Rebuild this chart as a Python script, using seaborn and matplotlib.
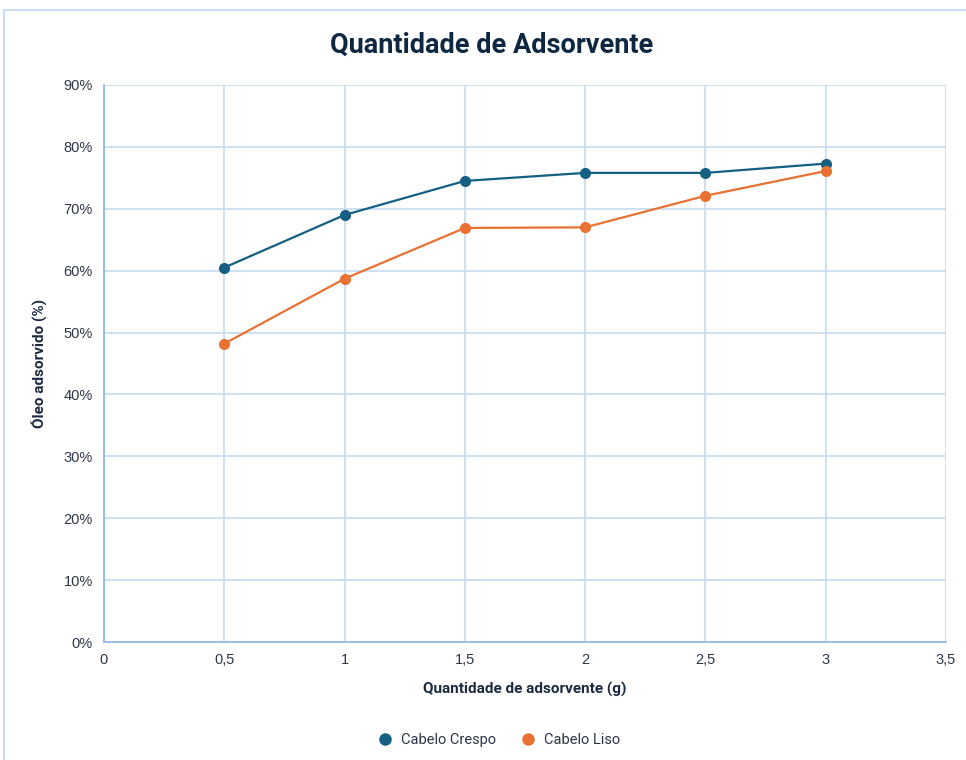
import matplotlib
matplotlib.use("Agg")
import matplotlib.pyplot as plt
import seaborn as sns
import pandas as pd
from matplotlib.patches import Rectangle
from matplotlib.ticker import FuncFormatter, MultipleLocator

quantidade = [0.5, 1, 1.5, 2, 2.5, 3]
crespo = [60.5, 69.0, 74.5, 75.8, 75.8, 77.3]
liso = [48.2, 58.7, 66.9, 67.0, 72.1, 76.1]
series_names = ["Cabelo Crespo", "Cabelo Liso"]
colors = ["#156082", "#E97132"]

df = pd.DataFrame({
    "x": quantidade * 2,
    "y": crespo + liso,
    "serie": [series_names[0]] * len(quantidade) + [series_names[1]] * len(quantidade),
})

sns.set_theme(style="white")
plt.rcParams["font.family"] = ["Roboto", "DejaVu Sans"]

fig = plt.figure(figsize=(9.66, 7.6), dpi=100)
ax = fig.add_axes([104/966, 1-642/760, (946-104)/966, (642-85)/760])

frame = Rectangle((4/966, -0.5), 2, 0.5 + 1 - 10/760, transform=fig.transFigure,
                  fill=False, edgecolor="#C9DDF2", linewidth=1.5, zorder=0)
fig.patches.append(frame)

sns.lineplot(data=df, x="x", y="y", hue="serie", palette=colors, marker="o",
             markersize=8, markeredgewidth=0, linewidth=1.6, ax=ax, legend=False)

ax.set_xlim(0, 3.5)
ax.set_ylim(0, 90)
ax.xaxis.set_major_locator(MultipleLocator(0.5))
ax.yaxis.set_major_locator(MultipleLocator(10))
ax.xaxis.set_major_formatter(FuncFormatter(lambda v, p: (f"{v:g}").replace(".", ",")))
ax.yaxis.set_major_formatter(FuncFormatter(lambda v, p: f"{v:.0f}%"))
ax.grid(True, color="#C5DBF1", linewidth=1.2)
for s in ["top", "right"]:
    ax.spines[s].set_visible(False)
ax.spines["left"].set_color("#8DB6E4")
ax.spines["bottom"].set_color("#8DB6E4")
ax.spines["left"].set_linewidth(1.2)
ax.spines["bottom"].set_linewidth(1.2)
ax.tick_params(axis="both", length=0, labelsize=10.5, colors="#2B3648", pad=8)
for lab in ax.get_xticklabels() + ax.get_yticklabels():
    lab.set_family(["Liberation Sans", "DejaVu Sans"])

ax.set_xlabel("Quantidade de adsorvente (g)", fontsize=11, fontweight="bold",
              color="#1B2A41", labelpad=11)
ax.set_ylabel("Óleo adsorvido (%)", fontsize=11, fontweight="bold",
              color="#1B2A41", labelpad=12)

fig.text(492/966, 1-45/760, "Quantidade de Adsorvente", ha="center", va="center",
         fontsize=19.5, fontweight="bold", color="#0E2841")

handles = [plt.Line2D([], [], marker="o", linestyle="none", color=c, markersize=8)
           for c in colors]
fig.legend(handles, series_names, loc="center", bbox_to_anchor=(495/966, 1-740/760),
           ncol=2, frameon=False, fontsize=10.5, handletextpad=0.1,
           columnspacing=1.2, labelcolor="#2B3648")

fig.savefig("out.png", dpi=100)
